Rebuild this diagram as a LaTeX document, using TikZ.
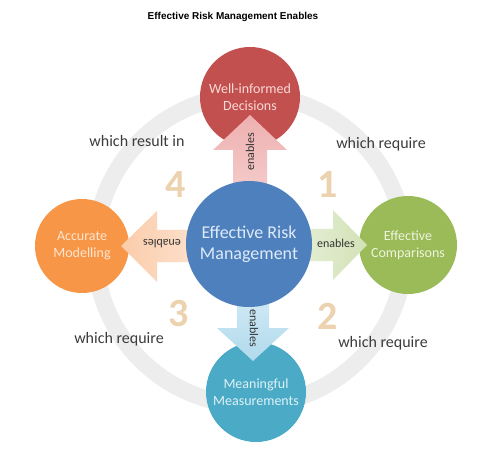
\documentclass[tikz,border=0pt]{standalone}
\usepackage{fontspec}
\setmainfont{Carlito}
\newfontfamily\titlefont{Liberation Sans}
\definecolor{redc}{RGB}{194,80,78}
\definecolor{greenc}{RGB}{155,187,89}
\definecolor{orangec}{RGB}{247,150,70}
\definecolor{tealc}{RGB}{75,170,197}
\definecolor{bluec}{RGB}{78,128,189}
\definecolor{redt}{RGB}{250,218,216}
\definecolor{greent}{RGB}{236,244,222}
\definecolor{oranget}{RGB}{254,230,210}
\definecolor{tealt}{RGB}{222,242,248}
\definecolor{bluet}{RGB}{222,234,248}
\definecolor{ringgray}{RGB}{237,237,237}
\definecolor{numtan}{RGB}{236,210,174}
\definecolor{txtgray}{RGB}{60,60,60}
\definecolor{upA}{RGB}{238,176,176}
\definecolor{upB}{RGB}{246,208,208}
\definecolor{rtA}{RGB}{232,240,218}
\definecolor{rtB}{RGB}{210,226,182}
\definecolor{lfA}{RGB}{253,228,210}
\definecolor{lfB}{RGB}{250,204,170}
\definecolor{dnA}{RGB}{214,236,246}
\definecolor{dnB}{RGB}{176,218,236}
\begin{document}
\begin{tikzpicture}[x=1pt,y=-1pt,
  bubble/.style={circle, inner sep=0pt, align=center, font=\fontsize{14}{17}\selectfont},
  lbl/.style={anchor=base, font=\fontsize{16}{19}\selectfont, text=txtgray},
  num/.style={inner sep=0pt, font=\bfseries\fontsize{40}{40}\selectfont, text=numtan},
  en/.style={inner sep=0pt, font=\fontsize{12}{14}\selectfont, text=black!80}]
\useasboundingbox[fill=white] (0,0) rectangle (500,454);
\node[font=\titlefont\bfseries\fontsize{10}{12}\selectfont] (title) at (233,17) {Effective Risk Management Enables};
% ring
\coordinate (ringc) at (250,250);
\draw[ringgray, line width=17pt] (ringc) circle[radius=155];
% outer circles
\node[bubble, fill=redc, text=redt, minimum size=100pt] (dec) at (250,97) {Well-informed\\Decisions};
\node[bubble, fill=greenc, text=greent, minimum size=98pt] (cmp) at (408,245) {Effective\\Comparisons};
\node[bubble, fill=orangec, text=oranget, minimum size=94pt] (mod) at (82,246) {Accurate\\Modelling};
\node[bubble, fill=tealc, text=tealt, minimum size=100pt] (mea) at (256,392) {Meaningful\\Measurements};
% arrows
\shade[top color=upA, bottom color=upB] (233,205) -- (233,150) -- (213,150) -- (250,115) -- (287,150) -- (267,150) -- (267,205) -- cycle;
\shade[left color=rtA, right color=rtB] (290,229) -- (333,229) -- (333,210) -- (367,245) -- (333,280) -- (333,261) -- (290,261) -- cycle;
\shade[left color=lfB, right color=lfA] (210,230) -- (157,230) -- (157,211) -- (121,246) -- (157,282) -- (157,262) -- (210,262) -- cycle;
\shade[top color=dnA, bottom color=dnB] (237,285) -- (237,328) -- (217,328) -- (253,361) -- (289,328) -- (269,328) -- (269,285) -- cycle;
% centre
\node[bubble, fill=bluec, text=bluet, minimum size=126pt, font=\fontsize{18}{21}\selectfont] (erm) at (249,244) {Effective Risk\\Management};
% arrow labels
\node[en, rotate=90] (e1) at (250,152) {enables};
\node[en] (e2) at (336,243) {enables};
\node[en, rotate=180] (e3) at (162,244) {enables};
\node[en, rotate=-90] (e4) at (254,328) {enables};
% numbers
\node[num] (n4) at (176,185) {4};
\node[num] (n1) at (328,185) {1};
\node[num] (n3) at (179,314) {3};
\node[num] (n2) at (328,316) {2};
% side labels
\node[lbl] (l4) at (137,147) {which result in};
\node[lbl] (l1) at (381,149) {which require};
\node[lbl] (l3) at (119,343) {which require};
\node[lbl] (l2) at (383,347) {which require};
\end{tikzpicture}
\end{document}
